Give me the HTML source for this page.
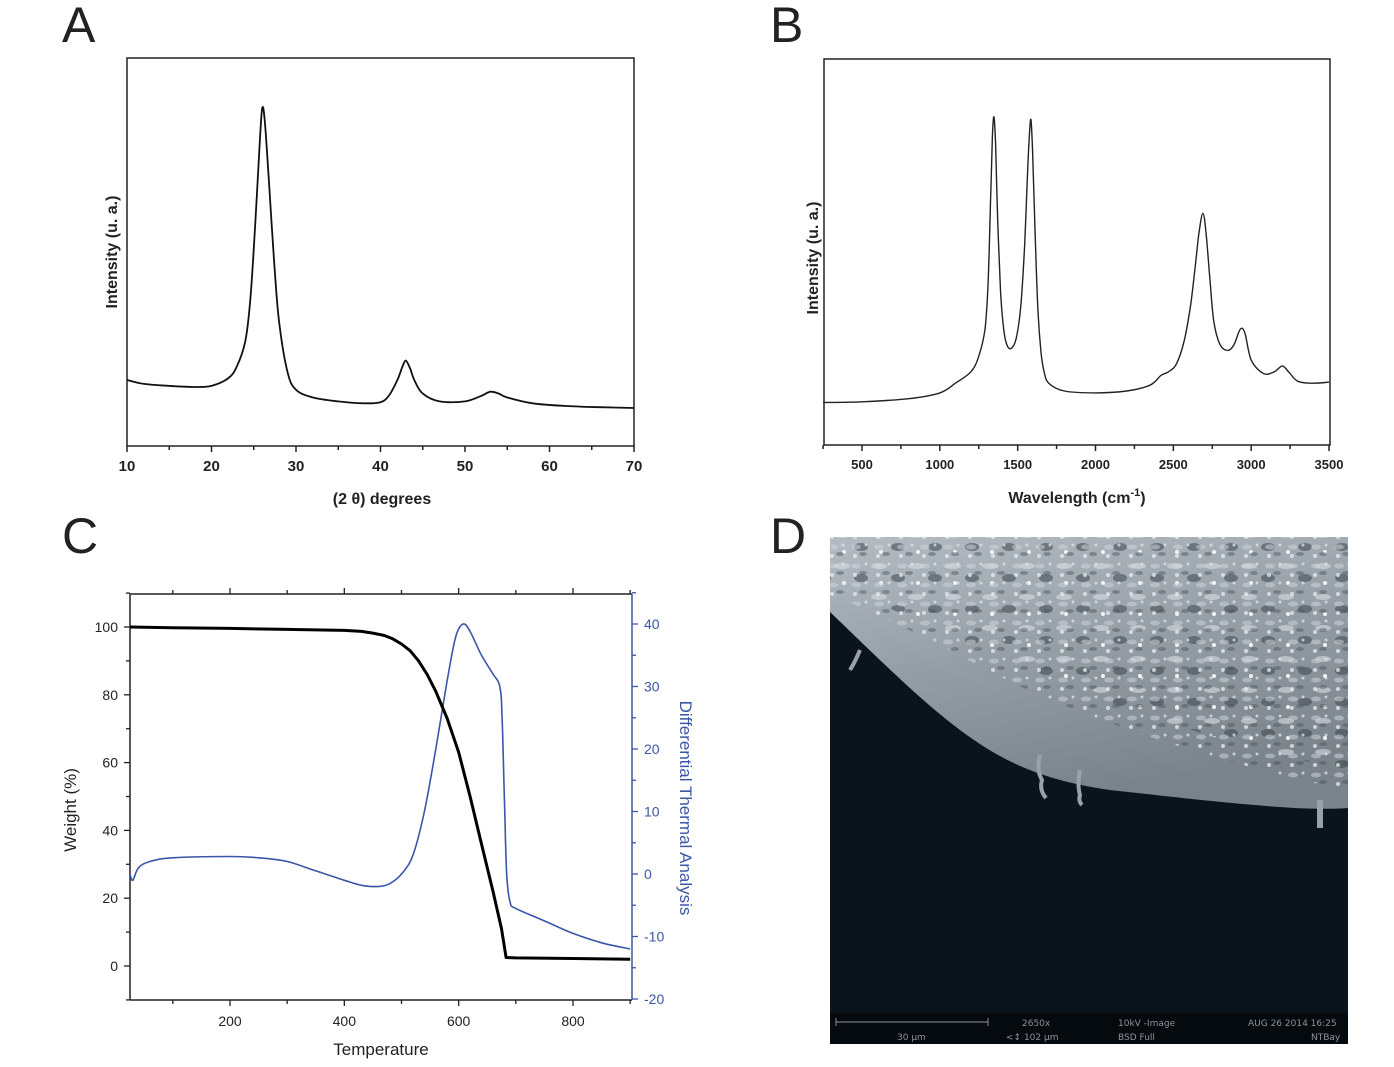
<!DOCTYPE html>
<html><head><meta charset="utf-8">
<style>
html,body{margin:0;padding:0;background:#fff;}
body{width:1394px;height:1067px;position:relative;overflow:hidden;font-family:"Liberation Sans",Arial,sans-serif;}
svg{position:absolute;left:0;top:0;}
</style></head>
<body>
<svg id="fig" width="1394" height="1067" viewBox="0 0 1394 1067">
 <text x="62" y="42" font-size="50" font-family="Liberation Sans" fill="#222">A</text>
 <text x="770" y="42" font-size="50" font-family="Liberation Sans" fill="#222">B</text>
 <text x="62" y="553" font-size="50" font-family="Liberation Sans" fill="#222">C</text>
 <text x="770" y="553" font-size="50" font-family="Liberation Sans" fill="#222">D</text>
 <g id="gA"></g>
 <g id="gB"></g>
 <g id="gC"></g>
 <g id="gD">
  <defs>
   <linearGradient id="semG" x1="0" y1="0" x2="0.3" y2="1">
    <stop offset="0" stop-color="#b4bcc3"/><stop offset="0.5" stop-color="#959da5"/><stop offset="1" stop-color="#7a828a"/>
   </linearGradient>
   <pattern id="dots" width="23" height="19" patternUnits="userSpaceOnUse">
    <circle cx="4" cy="5" r="2" fill="#e8eef2"/><circle cx="15" cy="13" r="1.5" fill="#dfe5ea"/>
    <ellipse cx="12" cy="3" rx="4" ry="2" fill="#4a535a" opacity="0.6"/><ellipse cx="5" cy="15" rx="5" ry="2.5" fill="#cfd6dc" opacity="0.7"/>
   </pattern>
   <pattern id="dots2" width="37" height="31" patternUnits="userSpaceOnUse">
    <ellipse cx="10" cy="20" rx="7" ry="4" fill="#3e464d" opacity="0.55"/><ellipse cx="28" cy="8" rx="8" ry="3" fill="#d8dee3" opacity="0.6"/>
    <circle cx="30" cy="25" r="2" fill="#f0f4f6"/>
   </pattern>
  </defs>
  <rect x="830" y="537" width="518" height="507" fill="#0c141b"/>
  <path d="M830,537 L1348,537 L1348,808 C1300,812 1200,800 1110,790 C1040,780 1000,760 960,730 C920,700 880,660 830,612 Z" fill="url(#semG)"/>
  <path d="M830,537 L1348,537 L1348,770 C1250,750 1150,720 1050,680 C980,650 900,610 830,585 Z" fill="url(#dots2)"/>
  <path d="M830,537 L1348,537 L1348,790 C1250,770 1150,740 1050,700 C980,670 900,620 830,595 Z" fill="url(#dots)" opacity="0.75"/>
  <path d="M1040,755 q-4,15 2,25 q-3,10 4,18" stroke="#9aa2a9" stroke-width="4" fill="none"/>
  <path d="M1080,770 q-3,15 0,25 q-2,6 2,10" stroke="#9aa2a9" stroke-width="4" fill="none"/>
  <path d="M860,650 q-5,12 -10,20" stroke="#9aa2a9" stroke-width="4" fill="none"/>
  <path d="M1320,800 l0,28" stroke="#9aa2a9" stroke-width="6" fill="none"/>
  <rect x="830" y="1013" width="518" height="31" fill="#050a0e"/>
  <g font-family="DejaVu Sans" font-size="9" fill="#8a939a">
   <path d="M836,1022 H988 M836,1018 V1026 M988,1018 V1026" stroke="#8a939a" stroke-width="1"/>
   <text x="897" y="1040">30 µm</text>
   <text x="1022" y="1026">2650x</text>
   <text x="1006" y="1040">&lt;↕ 102 µm</text>
   <text x="1118" y="1026">10kV -Image</text>
   <text x="1118" y="1040">BSD Full</text>
   <text x="1248" y="1026">AUG 26 2014 16:25</text>
   <text x="1311" y="1040">NTBay</text>
  </g>
 </g>
</svg>
<script>
// ---------- Data: Panel A (XRD) ----------
const xrdAngle = [10,12,15,18,20,22,23,24,24.6,25.2,25.7,26,26.3,26.8,27.4,28,29,30,32,35,38,40,41,42,42.6,43,43.5,44,45,47,50,52,53,54,55,58,62,66,70];
const xrdIntensity = [17,16,15.5,15.2,15.5,17.5,20.5,27,38,58,78,87,84,68,48,32,19,14.5,12.5,11.5,11,11.3,13,17,20.5,22,20,17,13.5,11.5,11.5,13,14,13.5,12.5,11,10.3,10,9.8];
const xrdTicks = [10,20,30,40,50,60,70];
// ---------- Data: Panel B (Raman) ----------
const ramanShift = [250,500,800,1000,1100,1200,1250,1290,1310,1325,1338,1348,1358,1372,1390,1410,1430,1457,1490,1520,1545,1565,1578,1586,1596,1612,1630,1650,1670,1700,1800,2000,2200,2350,2420,2470,2520,2570,2610,2640,2665,2690,2710,2735,2760,2800,2850,2890,2930,2960,3000,3080,3150,3200,3240,3300,3400,3500];
const ramanIntensity = [11,11.2,12,13.5,16,19,23,30,42,62,80,85,78,58,40,30,26,25,27.5,36,52,72,82,84,76,55,35,24,19,16,14,13.5,14,15.5,18,19,21,27,36,46,55,60,55,43,32,26,24.5,26,30,29,22,18.5,19,20.5,19,16.5,16,16.3];
const ramanTicks = [500,1000,1500,2000,2500,3000,3500];
// ---------- Data: Panel C (TGA / DTA) ----------
const tgaTemp = [25,100,200,300,400,430,450,470,485,500,515,530,545,560,580,600,620,640,660,675,683,700,800,900];
const tgaWeight = [100,99.8,99.6,99.3,99,98.7,98.2,97.5,96.5,95,93,90,86,81,73,63,50,36,22,11,2.5,2.4,2.2,2];
const dtaTemp = [25,30,40,60,100,200,250,300,350,400,430,460,480,500,520,540,560,580,595,608,620,640,660,672,676,680,684,690,700,750,800,850,900];
const dtaValue = [0,-1,1,2,2.6,2.8,2.6,2,0.5,-1,-1.8,-2,-1.5,0,3,10,20,31,38,40,38.8,35,32,30,25,12,0,-4.5,-5.5,-7.5,-9.5,-11,-12];
const tgaTicksX = [200,400,600,800];
const tgaTicksY = [0,20,40,60,80,100];
const dtaTicksY = [-20,-10,0,10,20,30,40];

const NS='http://www.w3.org/2000/svg';
function el(tag,attrs,parent){const e=document.createElementNS(NS,tag);for(const k in attrs)e.setAttribute(k,attrs[k]);parent.appendChild(e);return e;}
function lin(d0,d1,r0,r1){return v=>r0+(v-d0)*(r1-r0)/(d1-d0);}
function smoothPath(xs,ys,sx,sy){
 const P=xs.map((x,i)=>[sx(x),sy(ys[i])]);
 let d='M'+P[0][0].toFixed(1)+','+P[0][1].toFixed(1);
 for(let i=0;i<P.length-1;i++){
  const p0=P[Math.max(0,i-1)],p1=P[i],p2=P[i+1],p3=P[Math.min(P.length-1,i+2)];
  const t=1/6;
  const c1=[p1[0]+(p2[0]-p0[0])*t,p1[1]+(p2[1]-p0[1])*t];
  const c2=[p2[0]-(p3[0]-p1[0])*t,p2[1]-(p3[1]-p1[1])*t];
  d+=' C'+c1[0].toFixed(1)+','+c1[1].toFixed(1)+' '+c2[0].toFixed(1)+','+c2[1].toFixed(1)+' '+p2[0].toFixed(1)+','+p2[1].toFixed(1);
 }
 return d;
}
function pathFrom(xs,ys,sx,sy){return xs.map((x,i)=>(i?'L':'M')+sx(x).toFixed(1)+','+sy(ys[i]).toFixed(1)).join(' ');}

// Panel A
(function(){
 const g=document.getElementById('gA');
 const L=127,R=634,T=58,B=446;
 const sx=lin(10,70,L,R), sy=lin(0,100,B,T);
 const frame=el('rect',{x:L,y:T,width:R-L,height:B-T,fill:'none',stroke:'#222','stroke-width':1.5},g);
 
 
 for(let v=10;v<=70;v+=5){const big=v%10===0;
  const t=el('line',{x1:sx(v),x2:sx(v),y1:B,y2:B+(big?6:4),stroke:'#222','stroke-width':1.5},g);
  
  }
 xrdTicks.forEach(v=>{const t=el('text',{x:sx(v),y:B+25,'text-anchor':'middle','font-size':15,'font-weight':'bold',fill:'#222'},g);t.textContent=v;
  
  });
 const xt=el('text',{x:382,y:504,'text-anchor':'middle','font-size':16,'font-weight':'bold',fill:'#222'},g);xt.textContent='(2 θ) degrees';
 
 
 const yt=el('text',{x:0,y:0,transform:'translate(117,252) rotate(-90)','text-anchor':'middle','font-size':16,'font-weight':'bold',fill:'#222'},g);yt.textContent='Intensity (u. a.)';
 
 
 const p=el('path',{d:smoothPath(xrdAngle,xrdIntensity,sx,sy),fill:'none',stroke:'#111','stroke-width':1.8,'stroke-linejoin':'round'},g);
 
 
})();

// Panel B
(function(){
 const g=document.getElementById('gB');
 const L=824,R=1330,T=59,B=445;
 const sx=lin(500,3500,862,1329), sy=lin(0,100,B,T);
 const frame=el('rect',{x:L,y:T,width:R-L,height:B-T,fill:'none',stroke:'#222','stroke-width':1.5},g);
 
 
 for(let v=250;v<=3500;v+=250){const big=v%500===0;
  const t=el('line',{x1:sx(v),x2:sx(v),y1:B,y2:B+(big?6:4),stroke:'#222','stroke-width':1.5},g);
  
  }
 ramanTicks.forEach(v=>{const t=el('text',{x:sx(v),y:B+24,'text-anchor':'middle','font-size':13,'font-weight':'bold',fill:'#222'},g);t.textContent=v;
  
  });
 const xt=el('text',{x:1077,y:503,'text-anchor':'middle','font-size':16,'font-weight':'bold',fill:'#222'},g);
 xt.innerHTML='Wavelength (cm<tspan dy="-7" font-size="11">-1</tspan><tspan dy="7">)</tspan>';
 
 
 const yt=el('text',{x:0,y:0,transform:'translate(818,258) rotate(-90)','text-anchor':'middle','font-size':16,'font-weight':'bold',fill:'#222'},g);yt.textContent='Intensity (u. a.)';
 
 
 const p=el('path',{d:smoothPath(ramanShift,ramanIntensity,sx,sy),fill:'none',stroke:'#222','stroke-width':1.4,'stroke-linejoin':'round'},g);
 
 
})();

// Panel C
(function(){
 const g=document.getElementById('gC');
 const L=130,R=632,T=594,B=1000;
 const sx=lin(200,800,230,573), syL=lin(0,100,966,627), syR=lin(40,-20,624,999);
 const blue='#3a56a8';
 const f1=el('path',{d:`M${L},${B} V${T} H${R}`,fill:'none',stroke:'#222','stroke-width':1.5},g);
 
 
 const f2=el('line',{x1:L,x2:R,y1:B,y2:B,stroke:'#222','stroke-width':1.5},g);
 
 
 const f3=el('line',{x1:R,x2:R,y1:T,y2:B,stroke:blue,'stroke-width':1.5},g);
 
 
 for(let v=100;v<=900;v+=100){const big=v%200===0;
  [[B,B+(big?6:4)],[T,T-(big?6:4)]].forEach(([a,b])=>{
   const t=el('line',{x1:sx(v),x2:sx(v),y1:a,y2:b,stroke:'#222','stroke-width':1.3},g);
   
   });}
 tgaTicksX.forEach(v=>{const t=el('text',{x:sx(v),y:B+26,'text-anchor':'middle','font-size':14,fill:'#222'},g);t.textContent=v;
  
  });
 for(let v=-10;v<=110;v+=10){const big=v%20===0;
  const t=el('line',{x1:L,x2:L-(big?6:4),y1:syL(v),y2:syL(v),stroke:'#222','stroke-width':1.3},g);
  
  }
 tgaTicksY.forEach(v=>{const t=el('text',{x:L-12,y:syL(v)+5,'text-anchor':'end','font-size':14,fill:'#222'},g);t.textContent=v;
  
  });
 for(let v=-20;v<=45;v+=5){const big=v%10===0;
  const t=el('line',{x1:R,x2:R+(big?6:4),y1:syR(v),y2:syR(v),stroke:blue,'stroke-width':1.3},g);
  
  }
 dtaTicksY.forEach(v=>{const t=el('text',{x:R+12,y:syR(v)+5,'font-size':14,fill:blue},g);t.textContent=v;
  
  });
 const xt=el('text',{x:381,y:1055,'text-anchor':'middle','font-size':17,fill:'#222'},g);xt.textContent='Temperature';
 
 
 const yt=el('text',{x:0,y:0,transform:'translate(76,810) rotate(-90)','text-anchor':'middle','font-size':17,fill:'#222'},g);yt.textContent='Weight (%)';
 
 
 const yr=el('text',{x:0,y:0,transform:'translate(680,808) rotate(90)','text-anchor':'middle','font-size':17,fill:blue},g);yr.textContent='Differential Thermal Analysis';
 
 
 const cp=el('clipPath',{id:'clipC'},g);el('rect',{x:L,y:T,width:R-L,height:B-T},cp);
 const p2=el('path',{d:smoothPath(dtaTemp,dtaValue,sx,syR),fill:'none',stroke:blue,'stroke-width':1.6,'stroke-linejoin':'round','clip-path':'url(#clipC)'},g);
 
 
 const p1=el('path',{d:pathFrom(tgaTemp,tgaWeight,sx,syL),fill:'none',stroke:'#000','stroke-width':3,'stroke-linejoin':'round','clip-path':'url(#clipC)'},g);
 
 
})();
</script>
</body></html>
